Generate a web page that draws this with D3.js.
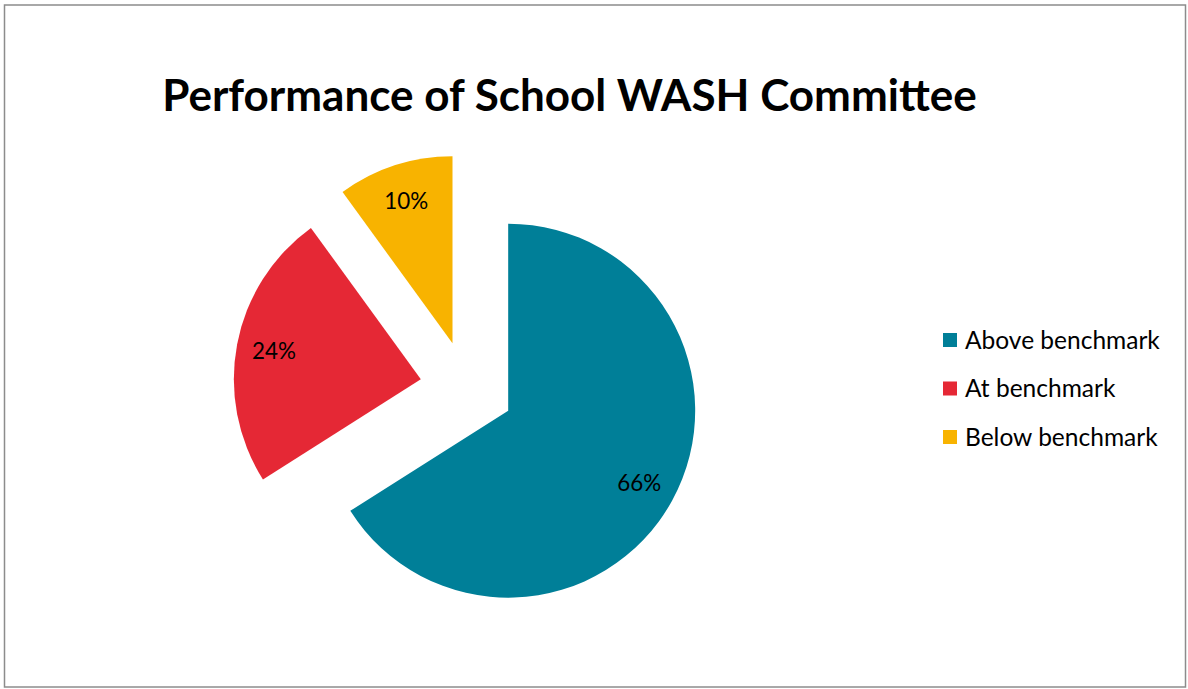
<!DOCTYPE html>
<html>
<head>
<meta charset="utf-8">
<script src="https://cdn.jsdelivr.net/npm/d3@7"></script>
<style>
  body { margin: 0; background: #fff; }
  text { font-family: Lato, 'Open Sans', sans-serif; }
</style>
</head>
<body>
<div id="chart"></div>
<script>
const categories = ['Above benchmark', 'At benchmark', 'Below benchmark']
const values = [66, 24, 10]
const colors = ['#007F98', '#E52835', '#F8B300']
const title = 'Performance of School WASH Committee'

const width = 1188
const height = 689

const svg = d3
  .select('#chart')
  .append('svg')
  .attr('width', width)
  .attr('height', height)

// frame
svg.append('rect')
  .attr('x', 4.5)
  .attr('y', 5)
  .attr('width', 1181)
  .attr('height', 682)
  .attr('fill', 'white')
  .attr('stroke', '#8c8c8c')
  .attr('stroke-width', 1.5)

// fit a text element to a target width
function fit(sel, target) {
  const w = sel.node().getComputedTextLength()
  const fs = parseFloat(sel.attr('font-size'))
  sel.attr('font-size', fs * target / w)
}

const t = svg.append('text')
  .text(title)
  .attr('x', 569.5)
  .attr('y', 111)
  .attr('text-anchor', 'middle')
  .attr('font-size', 40)
  .attr('font-weight', 700)
  .attr('fill', '#000')
fit(t, 815)

// pie
const cx = 467
const cy = 388
const radius = 187
const explode = 47

const pie = d3.pie().sort(null).value(d => d)
const arcs = pie(values)

const arc = d3.arc().innerRadius(0).outerRadius(radius)
const labelArc = d3.arc().innerRadius(radius * 0.8).outerRadius(radius * 0.8)

const g = svg.append('g').attr('transform', `translate(${cx},${cy})`)

const slices = g.selectAll('.slice')
  .data(arcs)
  .enter()
  .append('g')
  .attr('class', 'slice')
  .attr('transform', d => {
    const mid = (d.startAngle + d.endAngle) / 2
    return `translate(${Math.sin(mid) * explode},${-Math.cos(mid) * explode})`
  })

slices.append('path')
  .attr('d', arc)
  .attr('fill', (d, i) => colors[i])

const labels = slices.append('text')
  .text(d => d.data + '%')
  .attr('transform', d => `translate(${labelArc.centroid(d)})`)
  .attr('text-anchor', 'middle')
  .attr('dy', '0.36em')
  .attr('font-size', 21)
  .attr('fill', '#000')

// size the labels like the reference (66% is ~44px wide)
const lw = labels.nodes()[0].getComputedTextLength()
labels.attr('font-size', 21 * 44 / lw)

// legend
const legend = svg.append('g').attr('transform', 'translate(943, 340)')

const items = legend.selectAll('.legend')
  .data(categories)
  .enter()
  .append('g')
  .attr('class', 'legend')
  .attr('transform', (d, i) => `translate(0,${i * 48.5})`)

items.append('rect')
  .attr('x', 0)
  .attr('y', -7)
  .attr('width', 14)
  .attr('height', 14)
  .attr('fill', (d, i) => colors[i])

const lt = items.append('text')
  .text(d => d)
  .attr('x', 22)
  .attr('dy', '0.36em')
  .attr('font-size', 22)
  .attr('fill', '#000')

const base = lt.nodes()[0].getComputedTextLength()
lt.attr('font-size', 22 * 195 / base)
</script>
</body>
</html>
